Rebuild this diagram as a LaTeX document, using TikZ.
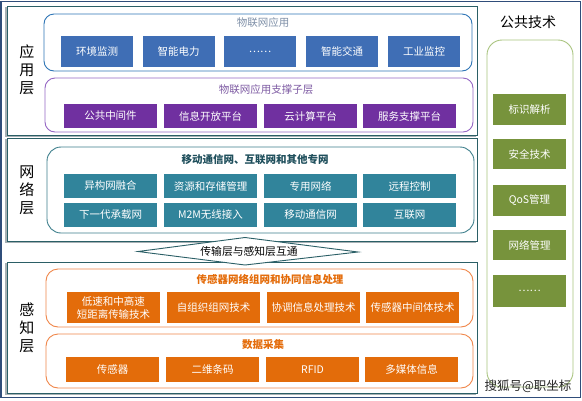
\documentclass[tikz,border=0pt]{standalone}
\usepackage{fontspec}
\setmainfont{Liberation Serif}
\newfontfamily\cjk{Noto Sans CJK SC}
\definecolor{outerc}{HTML}{2F4D7A}
\definecolor{framec}{HTML}{2B5F66}
\definecolor{shadowc}{HTML}{A6B0B4}
\definecolor{bluebox}{HTML}{3F6EB5}
\definecolor{blueline}{HTML}{2E75B6}
\definecolor{bluetitle}{HTML}{7F90A8}
\definecolor{purplebox}{HTML}{7030A0}
\definecolor{purpleline}{HTML}{9566C4}
\definecolor{purpletitle}{HTML}{7E5BA3}
\definecolor{tealbox}{HTML}{31849B}
\definecolor{tealline}{HTML}{3E7F8C}
\definecolor{tealtitle}{HTML}{1F4F5C}
\definecolor{orangebox}{HTML}{E36C0A}
\definecolor{orangeline}{HTML}{F0874A}
\definecolor{orangetitle}{HTML}{E46C0A}
\definecolor{greenbox}{HTML}{77933C}
\definecolor{greenline}{HTML}{A9C47F}
\begin{document}
\begin{tikzpicture}[x=1pt,y=-1pt,
  bx/.style={inner sep=0pt, text=white, align=center,
    font=\cjk\fontsize{10.5}{13}\selectfont},
  bbox/.style={bx, fill=bluebox, minimum width=72pt, minimum height=31pt},
  pbox/.style={bx, fill=purplebox, minimum width=93pt, minimum height=24pt},
  tbox/.style={bx, fill=tealbox, minimum width=93pt, minimum height=24pt},
  obox/.style={bx, fill=orangebox, minimum width=93pt, minimum height=31pt},
  obox2/.style={bx, fill=orangebox, minimum width=93pt, minimum height=25pt},
  gbox/.style={bx, fill=greenbox, minimum width=73pt},
  layer/.style={draw=framec, line width=0.9pt, fill=white},
  shadowl/.style={draw=shadowc, line width=1.8pt},
  cont/.style={line width=0.9pt},
  ttl/.style={inner sep=0pt, font=\cjk\fontsize{10.5}{12}\selectfont},
  lbl/.style={inner sep=0pt, align=center, font=\cjk\fontsize{15}{18}\selectfont}
]
\useasboundingbox (0,0) rectangle (582,400);
\fill[white] (0,0) rectangle (582,400);
\draw[outerc, line width=1.5pt] (1,1.5) rectangle (580.5,397.5);

% layer frames with shadow
\foreach \ya/\yb in {6/135,138/241,262/393}{
  \draw[shadowl] (6,\ya+1) -- (6,\yb+1) -- (476,\yb+1);
  \draw[layer] (7,\ya) rectangle (477,\yb);
}

% application layer
\node[lbl] (lapp) at (27,70) {应\\用\\层};
\draw[cont, draw=blueline, rounded corners=10pt] (44,14) rectangle (472,71);
\node[ttl, text=bluetitle] (tapp) at (263,23) {物联网应用};
\node[bbox] (a1) at (97,51.5) {环境监测};
\node[bbox] (a2) at (178.5,51.5) {智能电力};
\node[bbox] (a3) at (260,51.5) {……};
\node[bbox] (a4) at (342,51.5) {智能交通};
\node[bbox] (a5) at (424,51.5) {工业监控};

\draw[cont, draw=purpleline, rounded corners=10pt] (45,78) rectangle (473,132);
\node[ttl, text=purpletitle] (tsup) at (266,90) {物联网应用支撑子层};
\node[pbox] (p1) at (110.5,116) {公共中间件};
\node[pbox] (p2) at (210.5,116) {信息开放平台};
\node[pbox] (p3) at (310.5,116) {云计算平台};
\node[pbox] (p4) at (409.5,116) {服务支撑平台};

% network layer
\node[lbl] (lnet) at (27,190) {网\\络\\层};
\draw[cont, draw=tealline, rounded corners=14pt] (47,147) rectangle (474,233);
\node[ttl, text=tealtitle, font=\cjk\bfseries\fontsize{10.5}{12}\selectfont] (tnet) at (255,160) {移动通信网、互联网和其他专网};
\node[tbox] (n1) at (110.5,186) {异构网融合};
\node[tbox] (n2) at (210.5,186) {资源和存储管理};
\node[tbox] (n3) at (310.5,186) {专用网络};
\node[tbox] (n4) at (409.5,186) {远程控制};
\node[tbox] (n5) at (110.5,215) {下一代承载网};
\node[tbox] (n6) at (210.5,215) {M2M无线接入};
\node[tbox] (n7) at (310.5,215) {移动通信网};
\node[tbox] (n8) at (409.5,215) {互联网};

% sensing layer
\node[lbl] (lsen) at (27,328) {感\\知\\层};
\draw[cont, draw=orangeline, rounded corners=12pt] (46,269) rectangle (473,327);
\node[ttl, text=orangetitle, font=\cjk\bfseries\fontsize{10.5}{12}\selectfont] (tsen) at (270,279) {传感器网络组网和协同信息处理};
\node[obox] (s1) at (113.5,307.5) {低速和中高速\\短距离传输技术};
\node[obox] (s2) at (213.5,307.5) {自组织组网技术};
\node[obox] (s3) at (313.5,307.5) {协调信息处理技术};
\node[obox] (s4) at (412.5,307.5) {传感器中间体技术};

\draw[cont, draw=orangeline, rounded corners=12pt] (46,334) rectangle (473,388);
\node[ttl, text=orangetitle, font=\cjk\bfseries\fontsize{10.5}{12}\selectfont] (tdat) at (263,345) {数据采集};
\node[obox2] (d1) at (112.5,369.5) {传感器};
\node[obox2] (d2) at (212.5,369.5) {二维条码};
\node[obox2] (d3) at (312.5,369.5) {RFID};
\node[obox2] (d4) at (411.5,369.5) {多媒体信息};

% interconnection arrow
\draw[draw=framec, line width=0.9pt, fill=white] (138,251.5) -- (245,237.5) -- (358,252) -- (245,265) -- cycle;
\node[inner sep=0pt, font=\cjk\fontsize{10.8}{12}\selectfont] (arr) at (249,251) {传输层与感知层互通};

% public technology
\node[inner sep=0pt, font=\cjk\fontsize{14}{16}\selectfont] (tpub) at (528,22) {公共技术};
\draw[cont, draw=greenline, rounded corners=15pt] (487,40) rectangle (573,387);
\node[gbox, minimum height=31pt] (g1) at (529.5,109.5) {标识解析};
\node[gbox, minimum height=30pt] (g2) at (529.5,154) {安全技术};
\node[gbox, minimum height=31pt] (g3) at (529.5,200.5) {QoS管理};
\node[gbox, minimum height=30pt] (g4) at (529.5,245) {网络管理};
\node[gbox, minimum height=32pt] (g5) at (529.5,291) {……};

\node[inner sep=0pt, text=black!85, font=\cjk\fontsize{12.5}{14}\selectfont] (wm) at (528,386) {搜狐号@职坐标};
\end{tikzpicture}
\end{document}
